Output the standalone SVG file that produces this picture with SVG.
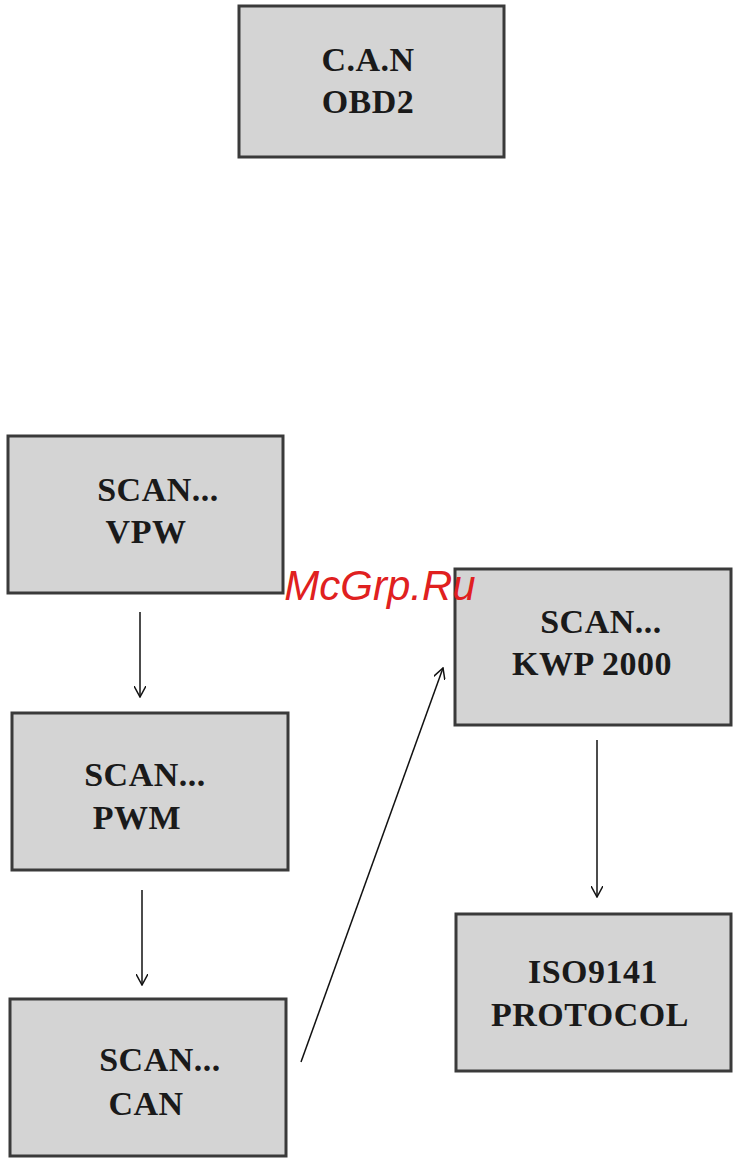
<svg xmlns="http://www.w3.org/2000/svg" width="747" height="1167" viewBox="0 0 747 1167">
<style>
.b{fill:#d4d4d4;stroke:#3a3a3a;stroke-width:3}
.t{font-family:"Liberation Serif",serif;font-weight:bold;font-size:34px;fill:#1a1a1a;text-anchor:middle;letter-spacing:0.5px}
.c{stroke:#111;stroke-width:1.5;fill:none;marker-end:url(#a)}
</style>
<defs><marker id="a" viewBox="0 0 12 12" refX="11" refY="6" markerWidth="12" markerHeight="12" markerUnits="userSpaceOnUse" orient="auto"><path d="M0,0 L11,6 L0,12" fill="none" stroke="#111" stroke-width="1.5"/></marker></defs>
<rect width="747" height="1167" fill="#fff"/>
<g id="obd"><rect class="b" x="239" y="6" width="265" height="151"/><text class="t" x="368" y="71">C.A.N</text><text class="t" x="368" y="113">OBD2</text></g>
<g id="vpw"><rect class="b" x="8" y="436" width="275" height="157"/><text class="t" x="158" y="501">SCAN...</text><text class="t" x="146" y="543">VPW</text></g>
<g id="pwm"><rect class="b" x="12" y="713" width="276" height="157"/><text class="t" x="145" y="786">SCAN...</text><text class="t" x="137" y="829">PWM</text></g>
<g id="can"><rect class="b" x="10" y="999" width="276" height="157"/><text class="t" x="160" y="1071">SCAN...</text><text class="t" x="146" y="1115">CAN</text></g>
<g id="kwp"><rect class="b" x="455" y="569" width="276" height="156"/><text class="t" x="601" y="633">SCAN...</text><text class="t" x="592" y="675">KWP 2000</text></g>
<g id="iso"><rect class="b" x="456" y="914" width="275" height="157"/><text class="t" x="593" y="983">ISO9141</text><text class="t" x="590" y="1026">PROTOCOL</text></g>
<g id="connectors">
<line class="c" x1="140" y1="612" x2="140" y2="697"/>
<line class="c" x1="142" y1="890" x2="142" y2="985"/>
<line class="c" x1="301" y1="1062" x2="443" y2="668"/>
<line class="c" x1="597" y1="740" x2="597" y2="897"/>
</g>
<text x="380" y="600" font-family="Liberation Sans,sans-serif" font-style="italic" font-size="42" fill="#e02020" text-anchor="middle">McGrp.Ru</text>
</svg>
